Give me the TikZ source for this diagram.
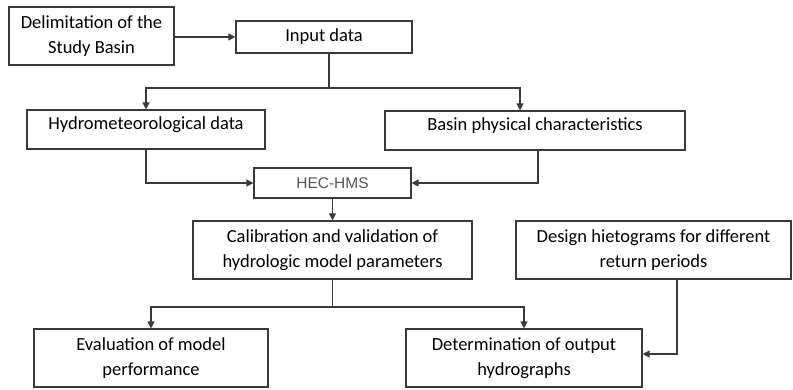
\documentclass[tikz,border=0pt]{standalone}
\usepackage{fontspec}
\setmainfont{Carlito}
\newfontfamily\arialfont{Liberation Sans}
\usetikzlibrary{arrows.meta}
\definecolor{edge}{HTML}{3A3A3A}
\definecolor{hectext}{HTML}{555555}
\tikzset{
  box/.style={draw=edge, line width=1.2pt, fill=white, inner sep=0pt, align=center,
    font=\fontsize{18.5pt}{25pt}\selectfont},
  conn/.style={draw=edge, line width=1.3pt, -{Triangle[length=7pt,width=7pt]}},
  stemline/.style={draw=edge, line width=1.3pt}
}
\begin{document}
\begin{tikzpicture}[x=1pt,y=-1pt]
\useasboundingbox (0,0) rectangle (793,390);
\node[box, minimum width=165pt, minimum height=58pt] (delim) at (91.5,36) {Delimitation of the\\Study Basin};
\node[box, minimum width=176pt, minimum height=32pt] (input) at (324,37) {Input data};
\node[box, minimum width=238pt, minimum height=39pt, text depth=12pt] (hydro) at (146,129.5) {Hydrometeorological data};
\node[box, minimum width=300pt, minimum height=39pt, text depth=12pt] (basin) at (535,130.5) {Basin physical characteristics};
\node[box, minimum width=157pt, minimum height=30pt, font=\arialfont\fontsize{15.5pt}{18pt}\selectfont, text=hectext] (hec) at (332.5,183) {HEC-HMS};
\node[box, minimum width=279pt, minimum height=58pt] (calib) at (332.5,250) {Calibration and validation of\\hydrologic model parameters};
\node[box, minimum width=275pt, minimum height=58pt] (design) at (653.5,250) {Design hietograms for different\\return periods};
\node[box, minimum width=234pt, minimum height=58pt] (eval) at (151,358) {Evaluation of model\\performance};
\node[box, minimum width=236pt, minimum height=58pt] (determ) at (524,358) {Determination of output\\hydrographs};
\coordinate (b1) at (329,88);
\coordinate (b2) at (332.5,307);
\draw[conn] (delim.east |- input.west) -- (input.west);
\draw[stemline] (input.south -| b1) -- (b1);
\draw[conn] (b1) -| (hydro.north);
\draw[conn] (b1) -| ([xshift=-15pt]basin.north);
\draw[conn] (hydro.south) |- (hec.west);
\draw[conn] ([xshift=3pt]basin.south) |- (hec.east);
\draw[conn] (hec.south) -- (calib.north);
\draw[stemline] (calib.south) -- (b2);
\draw[conn] (b2) -| (eval.north);
\draw[conn] (b2) -| (determ.north);
\draw[conn] ([xshift=23.5pt]design.south) |- ([yshift=4pt]determ.east);
\end{tikzpicture}
\end{document}
